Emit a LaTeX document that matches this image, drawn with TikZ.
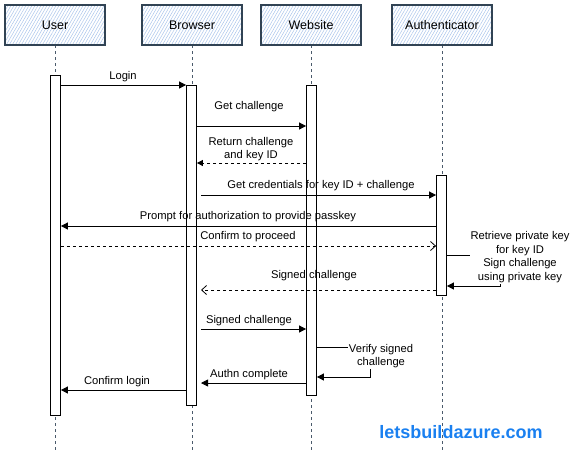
\documentclass[tikz,border=0pt]{standalone}
\usepackage{fontspec}
\setmainfont{Liberation Sans}
\usetikzlibrary{arrows.meta,patterns.meta}
\definecolor{hdrborder}{HTML}{314354}
\definecolor{hatch}{HTML}{A9C4EB}
\definecolor{lifeln}{HTML}{4A5A6B}
\definecolor{wmblue}{HTML}{1A80F0}
\tikzset{
  header/.style={draw=hdrborder, line width=1.1pt, minimum width=100pt, minimum height=40pt,
    inner sep=0pt, font=\fontsize{12.5}{14}\selectfont,
    preaction={pattern={Lines[angle=60,distance=2.6pt,line width=0.5pt]}, pattern color=hatch}},
  lifeline/.style={draw=lifeln, line width=0.8pt, dash pattern=on 3pt off 3pt},
  actbox/.style={draw=black, fill=white, line width=0.8pt, minimum width=10pt, inner sep=0pt},
  msg/.style={draw=black, line width=0.8pt, -{Triangle[length=7pt,width=7pt]}},
  retmsg/.style={draw=black, line width=0.8pt, dash pattern=on 3pt off 3pt, -{Triangle[length=6pt,width=6pt]}},
  openmsg/.style={draw=black, line width=0.8pt, dash pattern=on 3pt off 3pt, -{Straight Barb[length=5pt,width=9pt]}},
  lbl/.style={font=\fontsize{11.2}{13.5}\selectfont, inner sep=0pt, align=center},
  selflbl/.style={font=\fontsize{11.2}{13.7}\selectfont, inner sep=1pt, align=center, fill=white},
}
\begin{document}
\begin{tikzpicture}[x=1pt,y=-1pt]
\useasboundingbox (0,0) rectangle (579,451);
% lifelines
\coordinate (uT) at (55,45);  \coordinate (uB) at (55,451);
\coordinate (bT) at (192,45); \coordinate (bB) at (192,451);
\coordinate (wT) at (311,45); \coordinate (wB) at (311,451);
\coordinate (aT) at (442,45); \coordinate (aB) at (442,451);
\draw[lifeline] (uT) -- (uB);
\draw[lifeline] (bT) -- (bB);
\draw[lifeline] (wT) -- (wB);
\draw[lifeline] (aT) -- (aB);
% headers
\node[header] (user) at (55,25) {User};
\node[header] (browser) at (192,25) {Browser};
\node[header] (website) at (311,25) {Website};
\node[header] (auth) at (442,25) {Authenticator};
% activation boxes
\node[actbox, minimum height=340pt] (uact) at (55.5,245) {};
\node[actbox, minimum height=320pt] (bact) at (191.5,245) {};
\node[actbox, minimum height=310pt] (wact) at (311.5,240) {};
\node[actbox, minimum height=120pt] (aact) at (441.5,235) {};
% messages
\draw[msg] (uact.east |- 0,85) -- (bact.west |- 0,85);
\node[lbl] (l1) at (123,77) {Login};
\draw[msg] (bact.east |- 0,126) -- (wact.west |- 0,126);
\node[lbl] (l2) at (249,107) {Get challenge};
\draw[retmsg] (wact.west |- 0,163) -- (bact.east |- 0,163);
\node[lbl] (l3) at (251,149) {Return challenge\\and key ID};
\coordinate (gcS) at (201,195);
\draw[msg] (gcS) -- (aact.west |- 0,195);
\node[lbl] (l4) at (321,186) {Get credentials for key ID + challenge};
\draw[msg] (aact.west |- 0,226) -- (uact.east |- 0,226);
\node[lbl] (l5) at (248,217) {Prompt for authorization to provide passkey};
\draw[openmsg] (uact.east |- 0,246) -- (aact.west |- 0,246);
\node[lbl] (l6) at (248,237) {Confirm to proceed};
% self message authenticator
\coordinate (s1) at (500,255);
\coordinate (s2) at (500,286);
\draw[msg] (aact.east |- 0,255) -- (s1) -- (s2) -- (aact.east |- 0,286);
\node[selflbl] (l7) at (520,257) {Retrieve private key\\for key ID\\Sign challenge\\using private key};
\coordinate (scS) at (201,290);
\draw[openmsg] (aact.west |- 0,290) -- (scS);
\node[lbl] (l8) at (314,276) {Signed challenge};
\draw[msg] (scS |- 0,329) -- (wact.west |- 0,329);
\node[lbl] (l9) at (249,321) {Signed challenge};
% self message website
\coordinate (v1) at (370,347);
\coordinate (v2) at (370,377);
\draw[msg] (wact.east |- 0,347) -- (v1) -- (v2) -- (wact.east |- 0,377);
\node[selflbl] (l10) at (381,356) {Verify signed\\challenge};
\draw[msg] (wact.west |- 0,383) -- (scS |- 0,383);
\node[lbl] (l11) at (249,375) {Authn complete};
\draw[msg] (bact.west |- 0,390) -- (uact.east |- 0,390);
\node[lbl] (l12) at (117,382) {Confirm login};
% watermark
\node[font=\bfseries\fontsize{18}{20}\selectfont, text=wmblue, inner sep=0pt] (wm) at (461,432) {letsbuildazure.com};
\end{tikzpicture}
\end{document}
